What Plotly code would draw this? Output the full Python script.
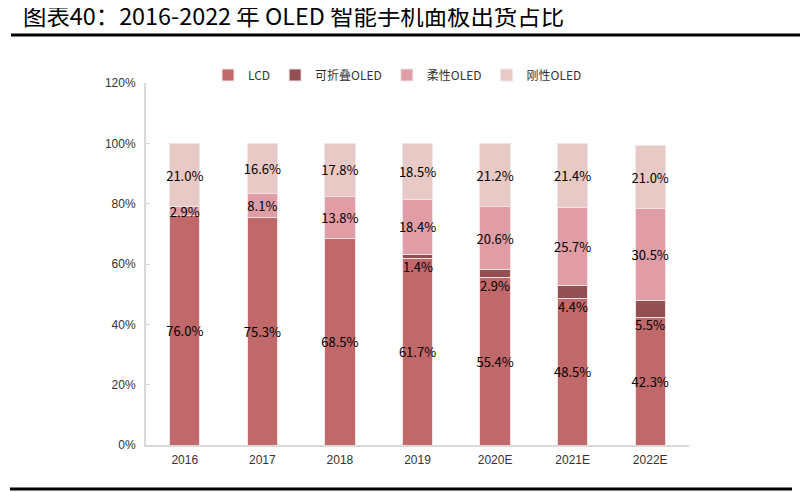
import plotly.graph_objects as go

years = ["2016", "2017", "2018", "2019", "2020E", "2021E", "2022E"]
lcd = [76.0, 75.3, 68.5, 61.7, 55.4, 48.5, 42.3]
foldable = [0, 0, 0, 1.4, 2.9, 4.4, 5.5]
flexible = [2.9, 8.1, 13.8, 18.4, 20.6, 25.7, 30.5]
rigid = [21.0, 16.6, 17.8, 18.5, 21.2, 21.4, 21.0]
series_names = ["LCD", "可折叠OLED", "柔性OLED", "刚性OLED"]
colors = ["#C1696A", "#944F52", "#E19DA5", "#E8C9C6"]
title_text = "图表40：2016-2022 年 OLED 智能手机面板出货占比"
y_ticks = [0, 20, 40, 60, 80, 100, 120]

# page body has an 8px default margin; work in screen coordinates
OFF = 8
W, H = 800, 484
L, T = 146 - OFF, 83 - OFF
R = W - (689 - OFF)
B = H - (445 - OFF)
pw, ph = W - L - R, H - T - B
def px(x):
    return (x - OFF - L) / pw
def py(y):
    return (H - B - (y - OFF)) / ph

label_font = dict(family="Noto Sans CJK SC", size=13, color="#000000")

fig = go.Figure()
fig.add_trace(go.Bar(x=years, y=lcd, name=series_names[0], marker_color=colors[0],
                     text=[f"{v:.1f}%" for v in lcd], textposition="inside",
                     insidetextanchor="middle", textangle=0, textfont=label_font))
fig.add_trace(go.Bar(x=years, y=foldable, name=series_names[1], marker_color=colors[1],
                     textposition="none"))
fig.add_trace(go.Bar(x=years, y=flexible, name=series_names[2], marker_color=colors[2],
                     text=[f"{v:.1f}%" for v in flexible], textposition="inside",
                     insidetextanchor="middle", textangle=0, textfont=label_font))
fig.add_trace(go.Bar(x=years, y=rigid, name=series_names[3], marker_color=colors[3],
                     text=[f"{v:.1f}%" for v in rigid], textposition="inside",
                     insidetextanchor="middle", textangle=0, textfont=label_font))
fig.update_traces(marker_line_color="#F2E4E4", marker_line_width=1)

annotations = []
for i, (base, f) in enumerate(zip(lcd, foldable)):
    if f > 0:
        annotations.append(dict(x=i, y=base, xref="x", yref="y", text=f"{f:.1f}%",
                                showarrow=False, yanchor="top", yshift=4,
                                font=label_font))
annotations.append(dict(x=px(22), y=py(15), xref="paper", yref="paper", text=title_text,
                        showarrow=False, xanchor="left", yanchor="middle", borderpad=0,
                        font=dict(family="Noto Sans CJK SC", size=23.4, color="#000000")))

shapes = [
    dict(type="line", xref="paper", yref="paper", x0=px(11), x1=px(800), y0=py(35), y1=py(35),
         line=dict(color="#000000", width=3)),
    dict(type="line", xref="paper", yref="paper", x0=px(10), x1=px(792), y0=py(489), y1=py(489),
         line=dict(color="#000000", width=3)),
]

fig.update_layout(
    width=W, height=H,
    margin=dict(l=L, r=R, t=T, b=B, autoexpand=False),
    paper_bgcolor="white", plot_bgcolor="white",
    barmode="stack", bargap=0.61,
    uniformtext=dict(mode="show", minsize=13),
    showlegend=True,
    legend=dict(orientation="h", x=px(208), y=py(75), xanchor="left", yanchor="middle",
                traceorder="normal", font=dict(family="Noto Sans CJK SC", size=12, color="#333333"),
                bgcolor="rgba(0,0,0,0)"),
    annotations=annotations,
    shapes=shapes,
    font=dict(family="Liberation Sans Narrow, Arial Narrow, Liberation Sans", color="#333333"),
    xaxis=dict(type="category", categoryorder="array", categoryarray=years,
               range=[-0.5, len(years) - 0.5], showgrid=False, showline=True,
               linecolor="#D9D9D9", linewidth=2, ticks="", ticklabelstandoff=3,
               tickfont=dict(size=12, color="#333333")),
    yaxis=dict(range=[0, 120], tickvals=y_ticks, ticktext=[f"{v}%" for v in y_ticks],
               showgrid=False, showline=True, linecolor="#D9D9D9", linewidth=2,
               ticks="inside", ticklen=4, tickcolor="#D9D9D9", ticklabelstandoff=6,
               tickfont=dict(size=12, color="#333333"), zeroline=False),
)

fig.write_html("out.html")
